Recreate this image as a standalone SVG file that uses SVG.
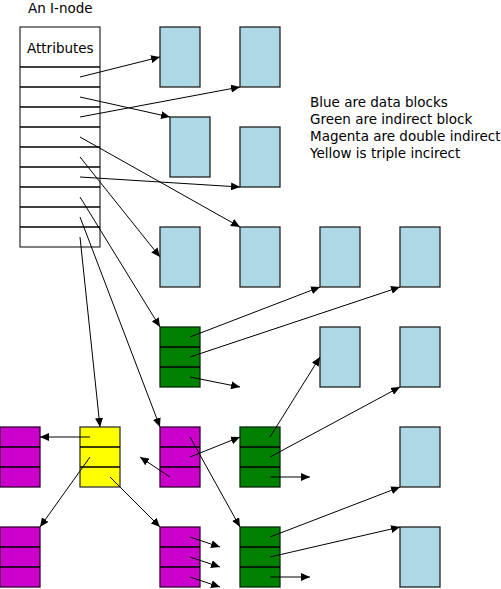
<svg xmlns="http://www.w3.org/2000/svg" width="501" height="589" viewBox="0 0 501 589">
<defs>
<marker id="ah" markerUnits="userSpaceOnUse" markerWidth="9" markerHeight="8" refX="9" refY="4" orient="auto">
<path d="M0,0 L9,4 L0,8 z" fill="#000"/>
</marker>
<style>
text{font-family:"DejaVu Sans",sans-serif;font-size:13.5px;fill:#000}
.b{fill:#add8e6;stroke:#222;stroke-width:1.3}
.g{fill:#008000;stroke:#0a2a0a;stroke-width:1.3}
.m{fill:#cc00cc;stroke:#300030;stroke-width:1.3}
.y{fill:#ffff00;stroke:#333;stroke-width:1.3}
.w{fill:#fff;stroke:#000;stroke-width:1}
.sep{stroke:#000;stroke-width:1.3;fill:none}
#connectors line{stroke:#000;stroke-width:1;marker-end:url(#ah)}
</style>
</defs>
<rect width="501" height="589" fill="#fff"/>
<text x="28" y="12.5">An I-node</text>
<g id="legend">
<text x="310" y="107">Blue are data blocks</text>
<text x="310" y="124">Green are indirect block</text>
<text x="310" y="141">Magenta are double indirect</text>
<text x="310" y="158">Yellow is triple incirect</text>
</g>
<g id="inode">
<rect class="w" x="20" y="27" width="80" height="220"/>
<path class="sep" d="M20,67H100M20,87H100M20,107H100M20,127H100M20,147H100M20,167H100M20,187H100M20,207H100M20,227H100" stroke-width="1"/>
<text x="27" y="53">Attributes</text>
</g>
<g id="blue1"><rect class="b" x="160" y="27" width="40" height="60"/></g>
<g id="blue2"><rect class="b" x="240" y="27" width="40" height="60"/></g>
<g id="blue3"><rect class="b" x="170" y="117" width="40" height="60"/></g>
<g id="blue4"><rect class="b" x="240" y="127" width="40" height="60"/></g>
<g id="blue5"><rect class="b" x="160" y="227" width="40" height="60"/></g>
<g id="blue6"><rect class="b" x="240" y="227" width="40" height="60"/></g>
<g id="blue7"><rect class="b" x="320" y="227" width="40" height="60"/></g>
<g id="blue8"><rect class="b" x="400" y="227" width="40" height="60"/></g>
<g id="blue9"><rect class="b" x="320" y="327" width="40" height="60"/></g>
<g id="blue10"><rect class="b" x="400" y="327" width="40" height="60"/></g>
<g id="blue11"><rect class="b" x="400" y="427" width="40" height="60"/></g>
<g id="blue12"><rect class="b" x="400" y="527" width="40" height="60"/></g>
<g id="green1"><rect class="g" x="160" y="327" width="40" height="60"/><path class="sep" d="M160,347H200M160,367H200" stroke="#0a2a0a"/></g>
<g id="green2"><rect class="g" x="240" y="427" width="40" height="60"/><path class="sep" d="M240,447H280M240,467H280" stroke="#0a2a0a"/></g>
<g id="green3"><rect class="g" x="240" y="527" width="40" height="60"/><path class="sep" d="M240,547H280M240,567H280" stroke="#0a2a0a"/></g>
<g id="magenta1"><rect class="m" x="160" y="427" width="40" height="60"/><path class="sep" d="M160,447H200M160,467H200" stroke="#300030"/></g>
<g id="magenta2"><rect class="m" x="0" y="427" width="40" height="60"/><path class="sep" d="M0,447H40M0,467H40" stroke="#300030"/></g>
<g id="magenta3"><rect class="m" x="0" y="527" width="40" height="60"/><path class="sep" d="M0,547H40M0,567H40" stroke="#300030"/></g>
<g id="magenta4"><rect class="m" x="160" y="527" width="40" height="60"/><path class="sep" d="M160,547H200M160,567H200" stroke="#300030"/></g>
<g id="yellow"><rect class="y" x="80" y="427" width="40" height="60"/><path class="sep" d="M80,447H120M80,467H120" stroke="#333"/></g>
<g id="connectors">
<line x1="80" y1="77" x2="160" y2="57"/>
<line x1="80" y1="97" x2="170" y2="117"/>
<line x1="80" y1="117" x2="240" y2="87"/>
<line x1="80" y1="137" x2="240" y2="227"/>
<line x1="80" y1="157" x2="160" y2="257"/>
<line x1="80" y1="177" x2="240" y2="187"/>
<line x1="80" y1="197" x2="160" y2="327"/>
<line x1="80" y1="217" x2="160" y2="427"/>
<line x1="80" y1="237" x2="100" y2="427"/>
<line x1="190" y1="337" x2="320" y2="287"/>
<line x1="190" y1="357" x2="400" y2="287"/>
<line x1="190" y1="377" x2="240" y2="387"/>
<line x1="190" y1="437" x2="240" y2="527"/>
<line x1="190" y1="457" x2="240" y2="437"/>
<line x1="170" y1="477" x2="140" y2="457"/>
<line x1="90" y1="437" x2="40" y2="437"/>
<line x1="90" y1="457" x2="40" y2="527"/>
<line x1="110" y1="477" x2="160" y2="527"/>
<line x1="190" y1="537" x2="220" y2="547"/>
<line x1="190" y1="557" x2="220" y2="567"/>
<line x1="190" y1="577" x2="220" y2="587"/>
<line x1="270" y1="437" x2="320" y2="357"/>
<line x1="270" y1="457" x2="400" y2="387"/>
<line x1="270" y1="477" x2="310" y2="477"/>
<line x1="270" y1="537" x2="400" y2="487"/>
<line x1="270" y1="557" x2="400" y2="527"/>
<line x1="270" y1="577" x2="310" y2="577"/>
</g>
</svg>
